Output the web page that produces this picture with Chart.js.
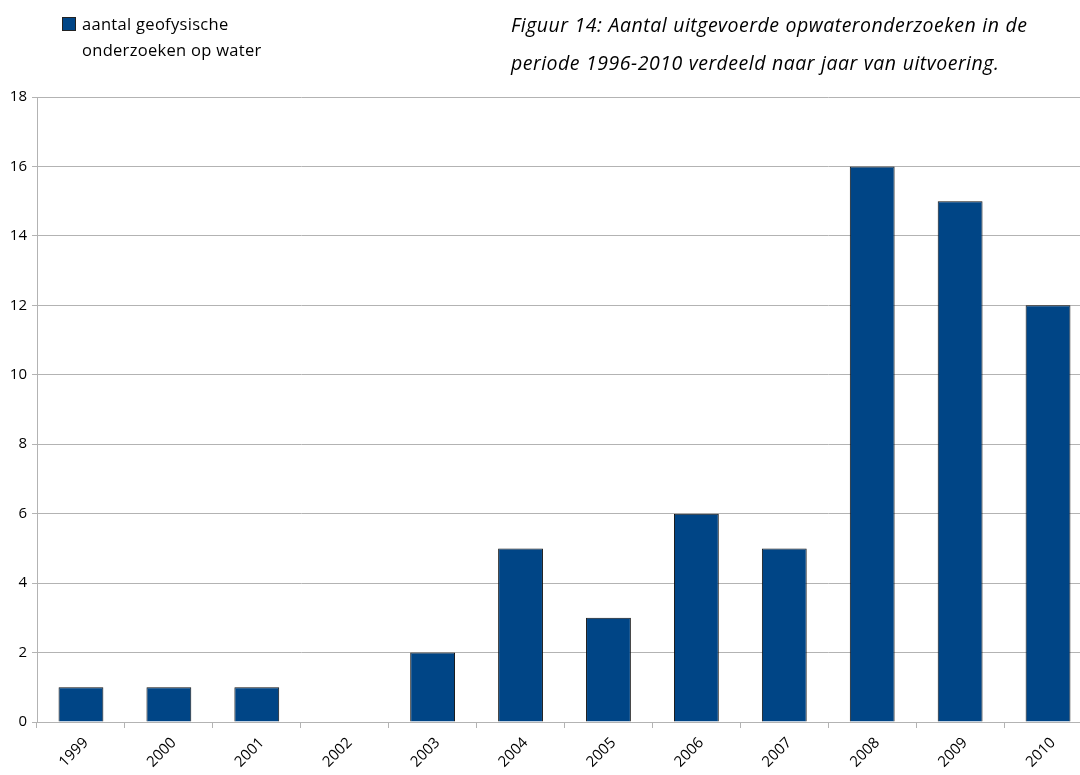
<!DOCTYPE html>
<html>
<head>
<meta charset="utf-8">
<script src="https://cdn.jsdelivr.net/npm/chart.js@4/dist/chart.umd.min.js"></script>
<style>
  html, body { margin: 0; padding: 0; background: #fff; overflow: hidden; width: 1080px; height: 775px; }
  #wrap { position: relative; width: 1092px; height: 775px; }
  #legend { position: absolute; left: 62px; top: 11px; font-family: "Open Sans", Lato, sans-serif; font-size: 16.5px; letter-spacing: 0.3px; line-height: 26px; color: #000; }
  #legend .box { position: absolute; left: 0; top: 6px; width: 14px; height: 14px; background: #004586; border: 1px solid #222; box-sizing: border-box; }
  #legend .txt { margin-left: 20px; }
  #title { position: absolute; left: 511px; top: 6px; font-family: "Open Sans", Lato, sans-serif; font-style: italic; font-size: 19.5px; letter-spacing: 0.5px; word-spacing: 0.5px; line-height: 38px; color: #000; white-space: nowrap; }
</style>
</head>
<body>
<div id="wrap">
  <canvas id="chart" width="1092" height="775"></canvas>
  <div id="legend"><span class="box"></span><div class="txt">aantal geofysische<br>onderzoeken op water</div></div>
  <div id="title">Figuur 14: Aantal uitgevoerde opwateronderzoeken in de<br>periode 1996-2010 verdeeld naar jaar van uitvoering.</div>
</div>
<script>
// data
const years = ["1999","2000","2001","2002","2003","2004","2005","2006","2007","2008","2009","2010"];
const counts = [1,1,1,0,2,5,3,6,5,16,15,12];
const seriesName = "aantal geofysische onderzoeken op water";

const gridColor = '#b3b3b3';
const fontFamily = '"Open Sans", Lato, sans-serif';

const config = {
  type: 'bar',
  data: {
    labels: years,
    datasets: [{
      label: seriesName,
      data: counts,
      backgroundColor: '#004586',
      borderColor: '#111',
      borderWidth: 1,
      categoryPercentage: 1,
      barPercentage: 0.51
    }]
  },
  options: {
    responsive: false,
    animation: false,
    layout: { padding: { top: 97, left: 0, right: 0, bottom: 0 } },
    plugins: {
      legend: { display: false },
      tooltip: { enabled: false }
    },
    scales: {
      x: {
        offset: true,
        grid: { offset: true, drawOnChartArea: false, color: gridColor, tickLength: 6 },
        border: { color: gridColor },
        ticks: {
          color: '#000',
          font: { family: fontFamily, size: 15 },
          minRotation: 45,
          maxRotation: 45,
          autoSkip: false,
          labelOffset: 5,
          padding: 6
        },
        afterFit: (scale) => { scale.height = 53; }
      },
      y: {
        min: 0,
        max: 18,
        ticks: {
          stepSize: 2,
          color: '#000',
          font: { family: fontFamily, size: 15 },
          padding: 5
        },
        grid: { color: gridColor, tickLength: 5 },
        border: { color: gridColor },
        afterFit: (scale) => { scale.width = 37; }
      }
    }
  }
};

new Chart(document.getElementById('chart'), config);
</script>
</body>
</html>
